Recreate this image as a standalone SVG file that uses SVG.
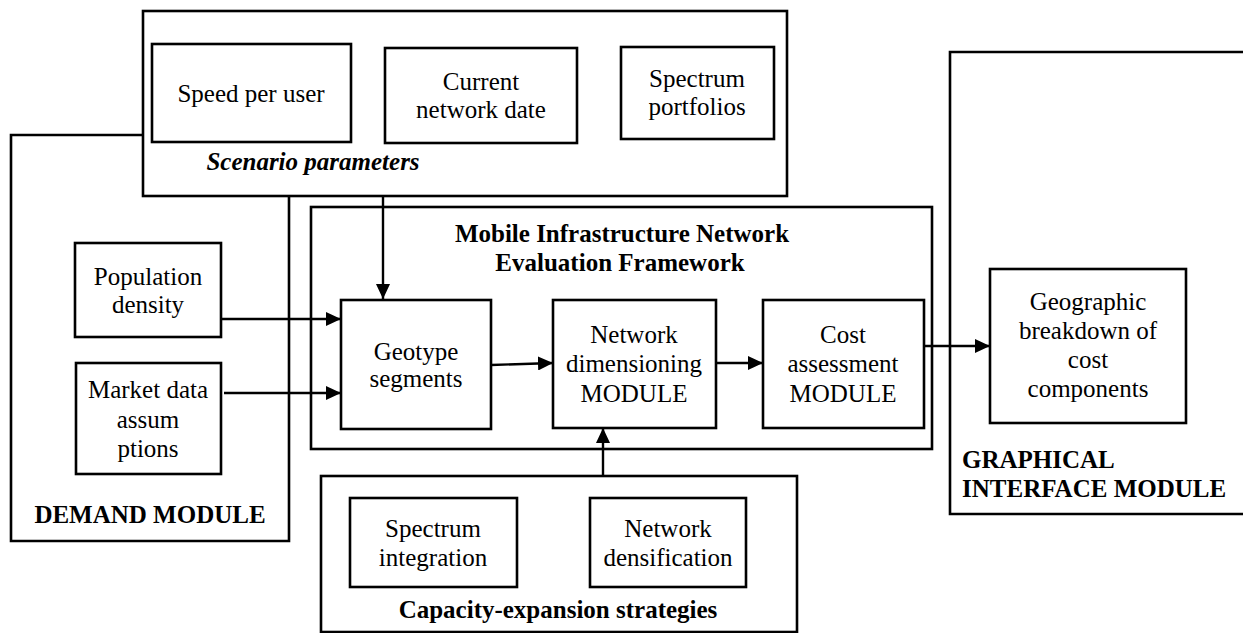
<svg xmlns="http://www.w3.org/2000/svg" width="1243" height="633" viewBox="0 0 1243 633">
<style>
.b{fill:none;stroke:#000;stroke-width:2.6}
.c{fill:none;stroke:#000;stroke-width:2.4}
text{font-family:"Liberation Serif","Times New Roman",serif;font-size:25px;fill:#000;text-anchor:middle}
.bd{font-weight:bold}
.bi{font-weight:bold;font-style:italic}
</style>
<defs>
<marker id="ah" markerWidth="15" markerHeight="14" refX="15" refY="7" orient="auto" markerUnits="userSpaceOnUse">
<path d="M0,0 L15,7 L0,14 Z" fill="#000"/>
</marker>
</defs>
<rect width="1243" height="633" fill="#fff"/>

<g id="demand-module">
<path class="b" d="M143,135 H11 V541 H289 V196"/>
<text class="bd" x="150" y="523">DEMAND MODULE</text>
</g>

<g id="scenario-parameters">
<rect class="b" x="143" y="11" width="644" height="185"/>
<text class="bi" x="313" y="170">Scenario parameters</text>
</g>
<g id="speed-per-user">
<rect class="b" x="152" y="44" width="199" height="98"/>
<text x="251" y="102">Speed per user</text>
</g>
<g id="current-network-date">
<rect class="b" x="385" y="48" width="192" height="95"/>
<text x="481" y="90">Current</text>
<text x="481" y="118">network date</text>
</g>
<g id="spectrum-portfolios">
<rect class="b" x="621" y="47" width="153" height="92"/>
<text x="697" y="87">Spectrum</text>
<text x="697" y="115">portfolios</text>
</g>

<g id="population-density">
<rect class="b" x="75" y="243" width="146" height="94"/>
<text x="148" y="285">Population</text>
<text x="148" y="313">density</text>
</g>
<g id="market-data">
<rect class="b" x="76" y="363" width="145" height="111"/>
<text x="148" y="398">Market data</text>
<text x="148" y="428">assum</text>
<text x="148" y="457">ptions</text>
</g>

<g id="framework">
<rect class="b" x="311" y="207" width="621" height="242"/>
<text class="bd" x="622" y="242">Mobile Infrastructure Network</text>
<text class="bd" x="620" y="271">Evaluation Framework</text>
</g>
<g id="geotype-segments">
<rect class="b" x="341" y="300" width="150" height="129"/>
<text x="416" y="360">Geotype</text>
<text x="416" y="387">segments</text>
</g>
<g id="network-dimensioning">
<rect class="b" x="553" y="300" width="163" height="128"/>
<text x="634" y="343">Network</text>
<text x="634" y="372">dimensioning</text>
<text x="634" y="402">MODULE</text>
</g>
<g id="cost-assessment">
<rect class="b" x="763" y="300" width="161" height="128"/>
<text x="843" y="343">Cost</text>
<text x="843" y="372">assessment</text>
<text x="843" y="402">MODULE</text>
</g>

<g id="graphical-interface-module">
<path class="b" d="M1243,52 H950 V514 H1243"/>
<text class="bd" x="962" y="468" style="text-anchor:start">GRAPHICAL</text>
<text class="bd" x="962" y="497" style="text-anchor:start">INTERFACE MODULE</text>
</g>
<g id="geographic-breakdown">
<rect class="b" x="990" y="269" width="196" height="154"/>
<text x="1088" y="310">Geographic</text>
<text x="1088" y="339">breakdown of</text>
<text x="1088" y="368">cost</text>
<text x="1088" y="397">components</text>
</g>

<g id="capacity-expansion">
<rect class="b" x="321" y="476" width="476" height="156"/>
<text class="bd" x="558" y="618">Capacity-expansion strategies</text>
</g>
<g id="spectrum-integration">
<rect class="b" x="350" y="498" width="167" height="89"/>
<text x="433" y="537">Spectrum</text>
<text x="433" y="566">integration</text>
</g>
<g id="network-densification">
<rect class="b" x="590" y="498" width="156" height="89"/>
<text x="668" y="537">Network</text>
<text x="668" y="566">densification</text>
</g>

<g id="connectors">
<line class="c" x1="383" y1="196" x2="383" y2="299" marker-end="url(#ah)"/>
<line class="c" x1="221" y1="319" x2="341" y2="319" marker-end="url(#ah)"/>
<line class="c" x1="224" y1="393" x2="341" y2="393" marker-end="url(#ah)"/>
<line class="c" x1="491" y1="365" x2="553" y2="363" marker-end="url(#ah)"/>
<line class="c" x1="716" y1="363" x2="763" y2="363" marker-end="url(#ah)"/>
<line class="c" x1="924" y1="346" x2="990" y2="346" marker-end="url(#ah)"/>
<line class="c" x1="603" y1="476" x2="603" y2="428" marker-end="url(#ah)"/>
</g>
</svg>
